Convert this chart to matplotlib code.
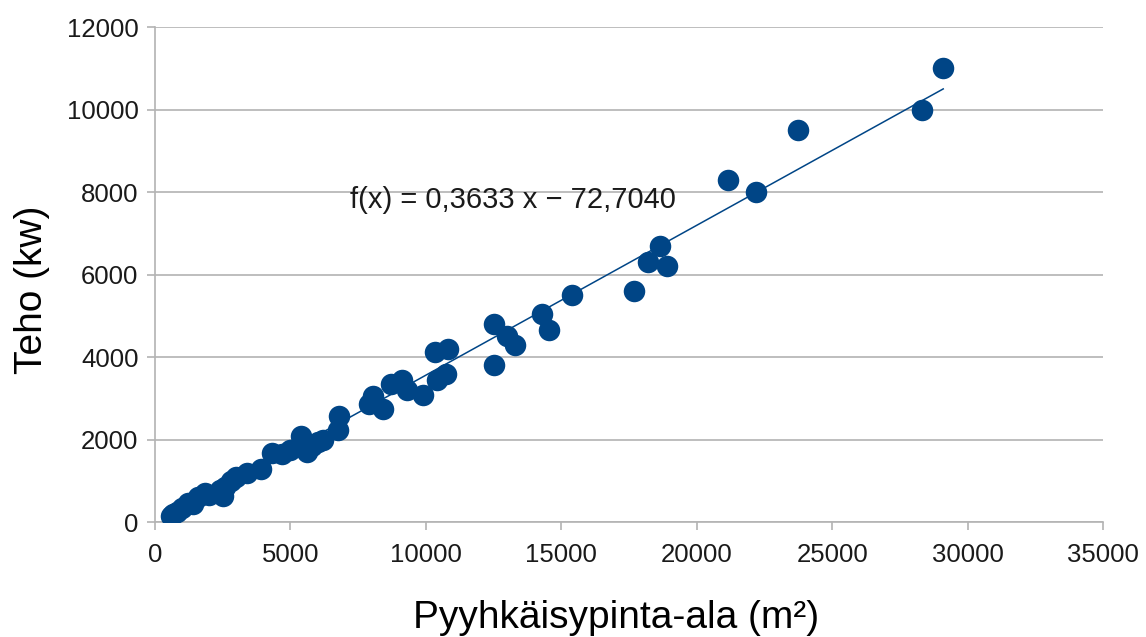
import matplotlib
matplotlib.use('Agg')
import matplotlib.pyplot as plt
import numpy as np

plt.rcParams['font.family'] = ['Liberation Sans', 'DejaVu Sans']

# swept area (m2) vs power (kW)
area = [600, 650, 800, 1000, 1200, 1400, 1600, 1850, 2000, 2400, 2500, 2600,
        2800, 3000, 3400, 3900, 4300, 4700, 5000, 5400, 5600, 5800, 6000, 6200,
        6750, 6800, 7900, 8050, 8400, 8700, 9100, 9300, 9900, 10350, 10400,
        10750, 10800, 12500, 12500, 13000, 13300, 14300, 14550, 15400, 17700,
        18200, 18650, 18900, 21150, 22200, 23750, 28300, 29100]
power = [150, 200, 250, 330, 450, 430, 600, 700, 650, 780, 640, 850,
         1000, 1100, 1200, 1280, 1680, 1650, 1750, 2080, 1700, 1850, 1950, 2000,
         2230, 2580, 2850, 3050, 2750, 3350, 3450, 3200, 3080, 4130, 3450,
         3600, 4200, 4800, 3800, 4500, 4300, 5050, 4650, 5500, 5600,
         6300, 6700, 6200, 8300, 8000, 9500, 10000, 11000]

slope = 0.3633
intercept = -72.7040

blue = '#004586'
grid = '#b3b3b3'

fig = plt.figure(figsize=(11.46, 6.37), dpi=100)
ax = fig.add_axes([0.1353, 0.1805, 0.9625 - 0.1353, 0.9576 - 0.1805])

ax.scatter(area, power, s=240, color=blue, zorder=3, linewidths=0)
xs = np.array([min(area), max(area)])
ax.plot(xs, slope * xs + intercept, color=blue, lw=1.1, zorder=2)

ax.text(7200, 7620, 'f(x) = 0,3633 x \u2212 72,7040', fontsize=21, color='#1a1a1a')

ax.set_xlim(0, 35000)
ax.set_ylim(0, 12000)
ax.set_xticks(range(0, 35001, 5000))
ax.set_yticks(range(0, 12001, 2000))
ax.yaxis.grid(True, color=grid, lw=1.2)
ax.set_axisbelow(True)
for s in ['top', 'right']:
    ax.spines[s].set_visible(False)
for s in ['left', 'bottom']:
    ax.spines[s].set_color(grid)
    ax.spines[s].set_linewidth(1.2)
ax.tick_params(colors=grid, labelcolor='#1a1a1a', labelsize=18.5, length=6, width=1.2)
ax.tick_params(axis='x', pad=9)
ax.tick_params(axis='y', pad=6)

ax.set_xlabel('Pyyhkäisypinta-ala (m²)', fontsize=28)
ax.set_ylabel('Teho (kw)', fontsize=28)
ax.xaxis.set_label_coords(0.486, -0.157)
ax.yaxis.set_label_coords(-0.111, 0.469)

fig.savefig('out.png', dpi=100)
